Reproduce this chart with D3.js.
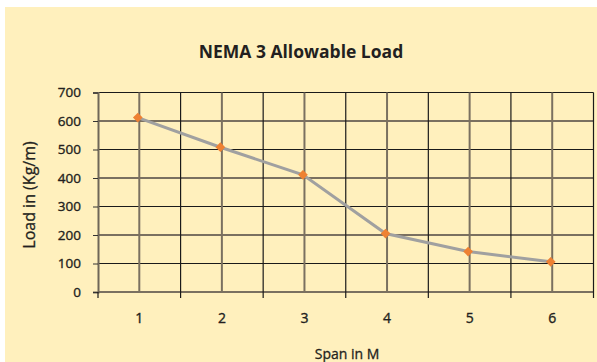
<!DOCTYPE html>
<html><head><meta charset="utf-8">
<script src="https://cdn.jsdelivr.net/npm/d3@7"></script>
<style>html,body{margin:0;padding:0;background:#fff;}</style>
</head><body>
<svg id="c" width="597" height="362"></svg>
<script>
const categories = ["1","2","3","4","5","6"];
const loads = [612, 508, 411, 205, 142, 106];
const yTicks = [0,100,200,300,400,500,600,700];
const title = "NEMA 3 Allowable Load";
const xTitle = "Span in M";
const yTitle = "Load in (Kg/m)";

const svg = d3.select("#c");
const font = "'Open Sans', sans-serif";
const ink = "#231f20";
svg.append("rect").attr("x",5).attr("y",7).attr("width",592).attr("height",355).attr("fill","#fff0bd");

const L=98, R=593.5, T=92.5, B=292;
const x = d3.scaleBand().domain(categories).range([L,R]);
const y = d3.scaleLinear().domain([0,700]).range([B,T]);

const g = svg.append("g");
yTicks.forEach((t,i)=>{
  g.append("line").attr("x1",L).attr("x2",R).attr("y1",y(t)).attr("y2",y(t))
   .attr("stroke", i%2===1 ? "#1a1a1a" : "#7a7060").attr("stroke-width", i%2===1?1.2:2);
});
const bounds = categories.map(c=>x(c)).concat([R]);
bounds.forEach((b,i)=>{
  if(i===0) return;
  g.append("line").attr("x1",b).attr("x2",b).attr("y1",T).attr("y2",B)
   .attr("stroke","#1a1a1a").attr("stroke-width",1.2);
});
categories.forEach(c=>{
  const cx = x(c)+x.bandwidth()/2;
  g.append("line").attr("x1",cx).attr("x2",cx).attr("y1",T).attr("y2",B)
   .attr("stroke","#7a7060").attr("stroke-width",2);
});
const ya = svg.append("g").attr("transform",`translate(${L},0)`)
  .call(d3.axisLeft(y).tickValues(yTicks).tickSize(5).tickPadding(12));
ya.select(".domain").attr("stroke","#6f6658").attr("stroke-width",2);
ya.selectAll(".tick line").attr("stroke","#333");
ya.selectAll("text").attr("font-family",font).attr("font-size",13.5).attr("fill",ink)
  .attr("stroke",ink).attr("stroke-width",0.35);
const xa = svg.append("g").attr("transform",`translate(0,${B})`)
  .call(d3.axisBottom(x).tickSize(0).tickPadding(21));
xa.select(".domain").remove();
xa.selectAll("text").attr("font-family",font).attr("font-size",14).attr("fill",ink)
  .attr("stroke",ink).attr("stroke-width",0.35);
bounds.forEach(b=>{
  xa.append("line").attr("x1",b).attr("x2",b).attr("y1",0).attr("y2",6).attr("stroke","#1a1a1a").attr("stroke-width",1.2);
});

const line = d3.line().x((d,i)=>x(categories[i])+x.bandwidth()/2-1.5).y(d=>y(d));
svg.append("path").datum(loads).attr("d",line).attr("fill","none")
  .attr("stroke","#a0a0a0").attr("stroke-width",3);
svg.selectAll(".m").data(loads).enter().append("path")
  .attr("d", d3.symbol().type(d3.symbolDiamond2).size(60))
  .attr("transform",(d,i)=>`translate(${x(categories[i])+x.bandwidth()/2-1.5},${y(d)})`)
  .attr("fill","#ee8133");

svg.append("text").attr("x",301).attr("y",58).attr("text-anchor","middle")
  .attr("font-family",font).attr("font-weight","bold").attr("font-size",17.5).attr("fill",ink).text(title);
svg.append("text").attr("x",347).attr("y",359).attr("text-anchor","middle")
  .attr("font-family",font).attr("font-size",14).attr("fill",ink)
  .attr("stroke",ink).attr("stroke-width",0.3).text(xTitle);
svg.append("text").attr("transform","translate(35,195) rotate(-90)").attr("text-anchor","middle")
  .attr("font-family",font).attr("font-size",16).attr("fill",ink)
  .attr("stroke",ink).attr("stroke-width",0.3).text(yTitle);
</script>
</body></html>
